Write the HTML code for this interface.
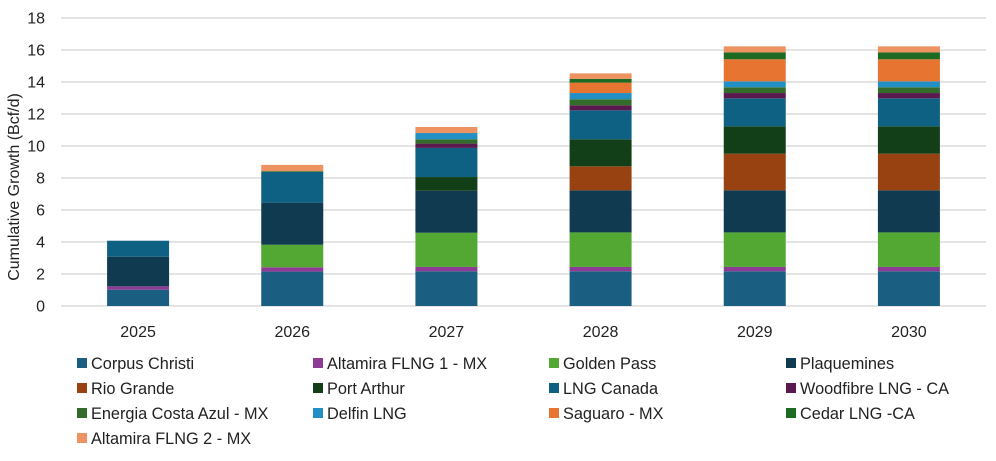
<!DOCTYPE html>
<html><head><meta charset="utf-8"><style>
body{margin:0;background:#fff;}
svg text{font-family:"Liberation Sans",sans-serif;fill:#222;}
</style></head><body>
<svg id="chart" width="996" height="456"></svg>
<script>
const categories=["2025","2026","2027","2028","2029","2030"];
const seriesNames=["Corpus Christi","Altamira FLNG 1 - MX","Golden Pass","Plaquemines","Rio Grande","Port Arthur","LNG Canada","Woodfibre LNG - CA","Energia Costa Azul - MX","Delfin LNG","Saguaro - MX","Cedar LNG -CA","Altamira FLNG 2 - MX"];
const seriesColors=["#1a5f82","#8e3b96","#52a832","#0f3a4f","#974210","#123f17","#0e6183","#5b1a4f","#336b2a","#2390c5","#e87432","#1d6a22","#ec9361"];
const corpusChristi=[1.02,2.15,2.17,2.17,2.17,2.17];
const altamira1=[0.21,0.27,0.27,0.27,0.27,0.27];
const goldenPass=[0,1.41,2.14,2.16,2.16,2.16];
const plaquemines=[1.85,2.63,2.62,2.63,2.63,2.63];
const rioGrande=[0,0,0,1.5,2.29,2.29];
const portArthur=[0,0,0.86,1.69,1.71,1.71];
const lngCanada=[1.0,1.92,1.82,1.81,1.75,1.75];
const woodfibre=[0,0,0.27,0.31,0.33,0.33];
const energia=[0,0.05,0.27,0.38,0.36,0.36];
const delfin=[0,0,0.39,0.39,0.37,0.37];
const saguaro=[0,0,0,0.65,1.38,1.38];
const cedar=[0,0,0,0.23,0.43,0.43];
const altamira2=[0,0.39,0.38,0.35,0.38,0.38];
const yTicks=[0,2,4,6,8,10,12,14,16,18];
const allSeries=[corpusChristi,altamira1,goldenPass,plaquemines,rioGrande,portArthur,lngCanada,woodfibre,energia,delfin,saguaro,cedar,altamira2];

const svg=document.getElementById('chart');
const NS='http://www.w3.org/2000/svg';
const L=61,R=986,T=18,B=306,yMax=18;
const band=(R-L)/categories.length, barW=62;
const y=v=>B-(v/yMax)*(B-T);
const xc=i=>L+band*(i+0.5);
function mk(tag,attrs,txt){const e=document.createElementNS(NS,tag);for(const k in attrs)e.setAttribute(k,attrs[k]);if(txt!==undefined)e.textContent=txt;svg.appendChild(e);return e;}

yTicks.forEach(t=>{
  const g=mk('line',{x1:L,x2:R,y1:y(t),y2:y(t),stroke:'#d4d4d4','stroke-width':1.3});
  
  
  const lb=mk('text',{x:45,y:y(t)+5.5,'text-anchor':'end','font-size':16},String(t));
  
  
});
const yt=mk('text',{x:0,y:0,'text-anchor':'middle','font-size':16,transform:'translate(19,187) rotate(-90)'},'Cumulative Growth (Bcf/d)');



categories.forEach((c,i)=>{
  let acc=0;
  allSeries.forEach((s,si)=>{
    const v=s[i]; if(v<=0)return;
    const r=mk('rect',{x:xc(i)-barW/2,y:y(acc+v),width:barW,height:y(acc)-y(acc+v),fill:seriesColors[si]});
    
    
    acc+=v;
  });
  const lb=mk('text',{x:xc(i),y:337,'text-anchor':'middle','font-size':16},c);
  
  
});

const colX=[77,313,549,786], rowY=[363,388,413,438];
seriesNames.forEach((n,i)=>{
  const cx=colX[i%4], cy=rowY[Math.floor(i/4)];
  const sq=mk('rect',{x:cx,y:cy-5,width:10,height:10,fill:seriesColors[i]});
  
  
  const t=mk('text',{x:cx+14,y:cy+6,'font-size':16.3},n);
  
  
});
</script>
</body></html>
